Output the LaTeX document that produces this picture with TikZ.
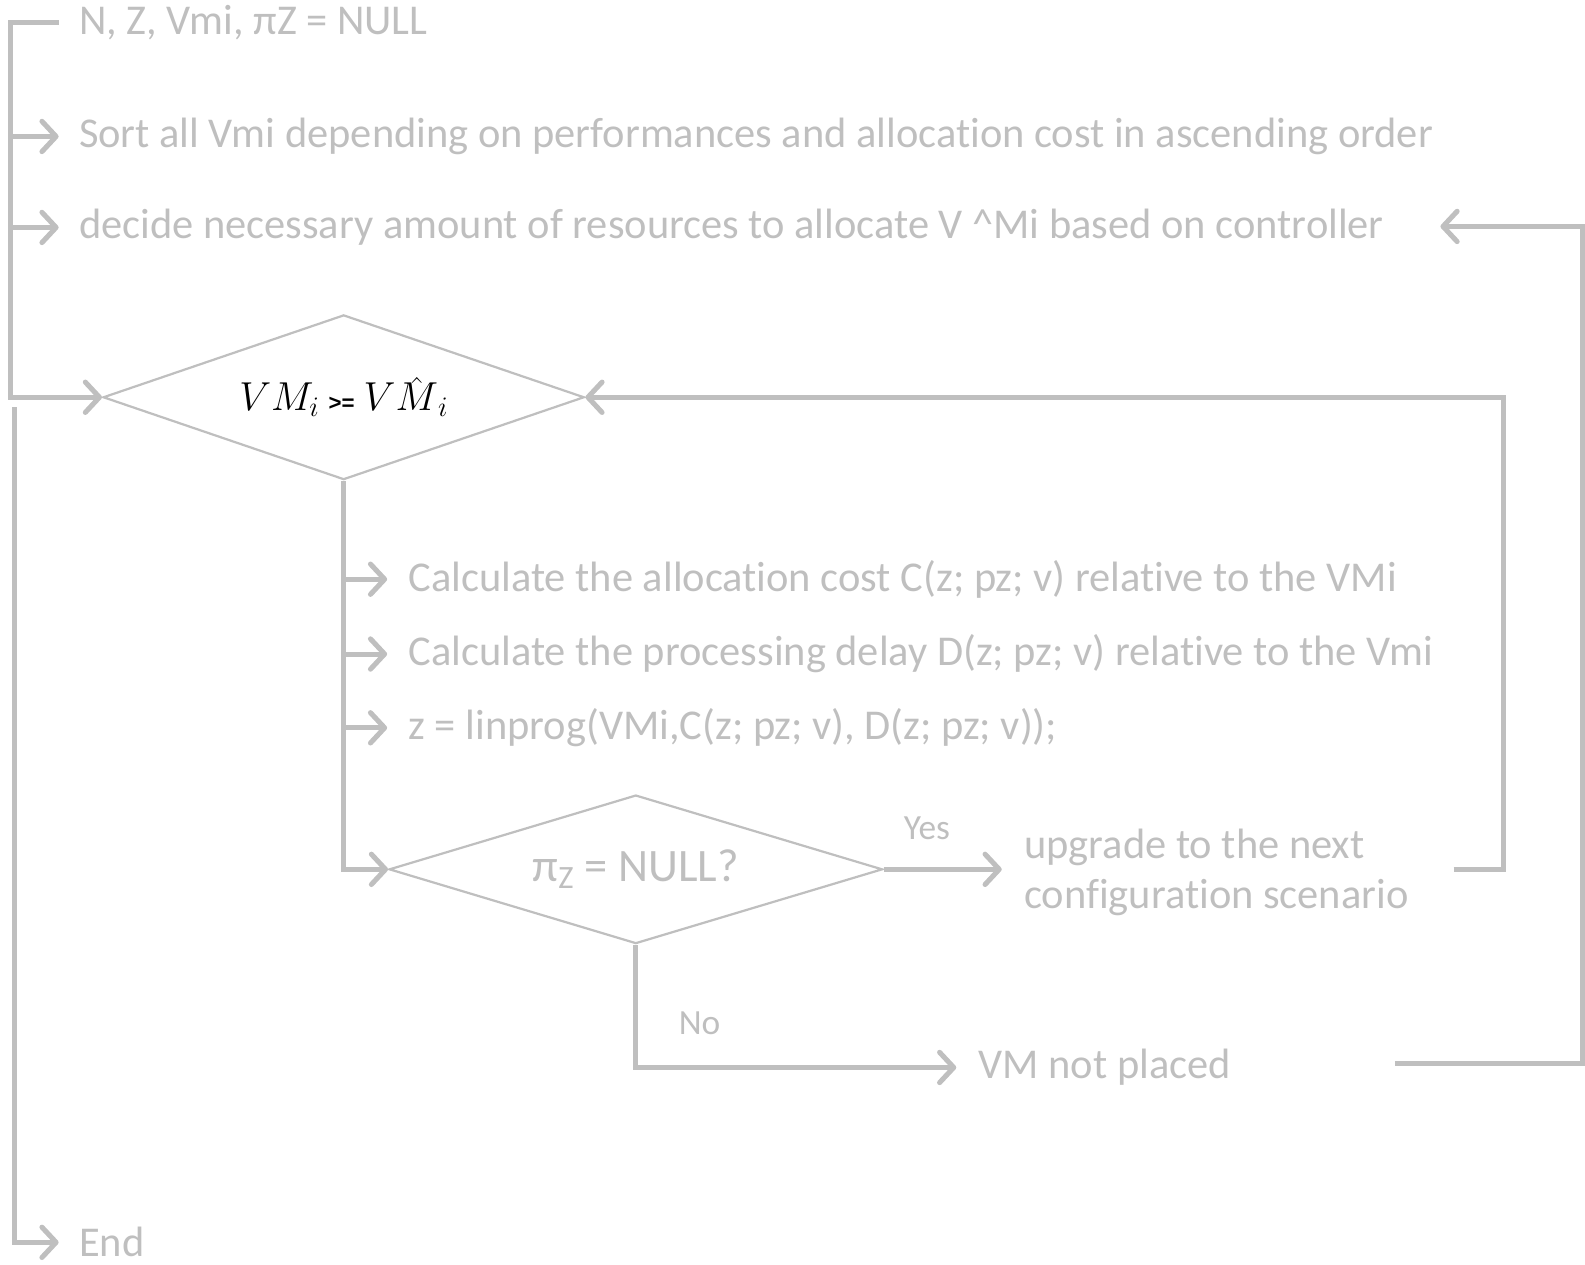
\RequirePackage{fix-cm}
\documentclass[tikz,border=0pt]{standalone}
\usepackage{amsmath}
\usepackage[no-math]{fontspec}
\setmainfont{Carlito}[Ligatures=NoCommon]
\newfontfamily\arialf{Liberation Sans}
\usetikzlibrary{shapes.geometric,arrows.meta,calc}
\definecolor{lgray}{HTML}{BFBFBF}
\begin{document}
\begin{tikzpicture}[x=1pt,y=-1pt,
  txt/.style={anchor=west,inner sep=0pt,text=lgray,font=\fontsize{42}{50}\selectfont},
  lbl/.style={inner sep=0pt,text=lgray,font=\fontsize{35}{40}\selectfont},
  conn/.style={draw=lgray,line width=5pt},
  arr/.style={conn,-{Straight Barb[length=14pt,width=30pt,line width=5pt,round]}},
  dia/.style={diamond,draw=lgray,line width=2.2pt,inner sep=0pt}]
\useasboundingbox (0,0) rectangle (1568,1251);
% texts
\node[txt] (init) at (78,22) {N, Z, Vmi, πZ = NULL};
\node[txt] (sort) at (78,135) {Sort all Vmi depending on performances and allocation cost in ascending order};
\node[txt] (decide) at (78,225) {decide necessary amount of resources to allocate V \textasciicircum Mi based on controller};
\node[txt] (calc1) at (404,573) {Calculate the allocation cost C(z; pz; v) relative to the VMi};
\node[txt] (calc2) at (404,647) {Calculate the processing delay D(z; pz; v) relative to the Vmi};
\node[txt] (lin) at (404,720) {z = linprog(VMi,C(z; pz; v), D(z; pz; v));};
\node[txt,align=left] (up) at (1013,863) {upgrade to the next\\configuration scenario};
\node[txt] (vm) at (968,1056) {VM not placed};
\node[txt] (endn) at (78,1229) {End};
\node[lbl] (yes) at (917,819) {Yes};
\node[lbl] (no) at (692,1012) {No};
% diamonds
\node[dia,minimum width=476pt,minimum height=163pt,aspect=2.92] (d1) at (340,393)
  {\fontsize{40}{44}\selectfont $VM_i$ {\arialf\bfseries\fontsize{22}{22}\selectfont >=} $V\hat{\smash[t]{M}\rule{0pt}{0.55em}}_i$};
\node[dia,minimum width=488pt,minimum height=147pt,aspect=3.32] (d2) at (629,860)
  {\textcolor{lgray}{\fontsize{46}{50}\selectfont π\textsubscript{Z} = NULL?}};
% coordinates
\coordinate (L) at (10,22);
\coordinate (topend) at (58,22);
\coordinate (L2) at (14,403);
\coordinate (upout) at (1438,860);
\coordinate (R1) at (1487,393);
\coordinate (vmout) at (1380,1052);
\coordinate (R2) at (1566,224);
\coordinate (decin) at (1425,224);
% connectors
\draw[arr] (topend) -- (L) |- (d1.west);
\draw[arr] (sort.west -| L) -- ([xshift=-20pt]sort.west);
\draw[arr] (decide.west -| L) -- ([xshift=-20pt]decide.west);
\draw[arr] (L2) |- ([xshift=-20pt]endn.west);
\draw[arr] (d1.south) |- (d2.west);
\draw[arr] (calc1.west -| d1.south) -- ([xshift=-21pt]calc1.west);
\draw[arr] (calc2.west -| d1.south) -- ([xshift=-21pt]calc2.west);
\draw[arr] (lin.west -| d1.south) -- ([xshift=-21pt]lin.west);
\draw[arr] (d2.east) -- ([xshift=-22pt]up.west |- d2.east);
\draw[arr] (upout) -| (R1) -- (d1.east);
\draw[arr] (d2.south) |- ([xshift=-22pt]vm.west);
\draw[arr] (vmout) -| (R2) -- (decin);
\end{tikzpicture}
\end{document}
